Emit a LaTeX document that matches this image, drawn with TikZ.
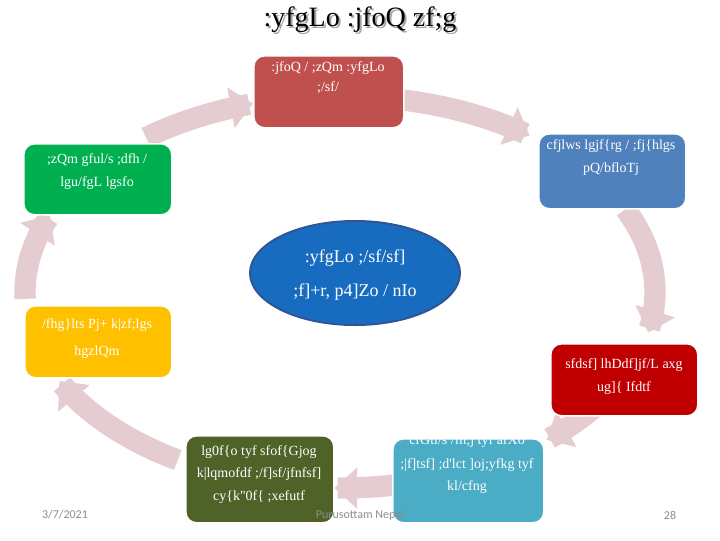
\documentclass[tikz,border=0pt]{standalone}
\usepackage{fontspec}
\setmainfont{Liberation Serif}[Ligatures=TeXOff]
\newfontfamily\footfont{Carlito}
\usetikzlibrary{arrows.meta,shapes.geometric}
\definecolor{ringc}{RGB}{228,204,208}
\definecolor{ctop}{RGB}{192,80,77}
\definecolor{cblue}{RGB}{79,129,189}
\definecolor{cgreen}{RGB}{0,176,80}
\definecolor{cyellow}{RGB}{255,192,0}
\definecolor{cred}{RGB}{192,0,0}
\definecolor{colive}{RGB}{79,98,40}
\definecolor{cteal}{RGB}{75,172,198}
\definecolor{cell}{RGB}{24,108,192}
\definecolor{cellb}{RGB}{47,85,151}
\definecolor{footc}{RGB}{140,140,140}
\begin{document}
\begin{tikzpicture}[x=0.75pt,y=-0.75pt,
  box/.style={draw=white, line width=1.2pt, rounded corners=8pt, anchor=north west, inner sep=0pt},
  txt/.style={text=white, font=\fontsize{10.5}{12}\selectfont, inner sep=0pt},
  ctxt/.style={text=white, font=\fontsize{13.5}{15}\selectfont, inner sep=0pt},
  seg/.style={draw=ringc, line width=16pt, -{Triangle[width=30pt,length=17pt]}},
  foot/.style={text=footc, font=\footfont\fontsize{9}{10}\selectfont, inner sep=0pt}]
\useasboundingbox (0,0) rectangle (720,540);
% ring segments
\draw[seg] plot[domain=82:53, samples=30] ({340+315*cos(\x)},{292-196*sin(\x)});
\draw[seg] plot[domain=25:-12, samples=30] ({340+315*cos(\x)},{292-196*sin(\x)});
\draw[seg] plot[domain=-35:-49, samples=20] ({340+315*cos(\x)},{292-196*sin(\x)});
\draw[seg] plot[domain=-80:-91, samples=20] ({340+315*cos(\x)},{292-196*sin(\x)});
\draw[seg] plot[domain=-121:-153, samples=30] ({340+315*cos(\x)},{292-196*sin(\x)});
\draw[seg] plot[domain=-178:-203, samples=30] ({340+315*cos(\x)},{292-196*sin(\x)});
\draw[seg] plot[domain=128:106, samples=30] ({340+315*cos(\x)},{292-196*sin(\x)});
% boxes
\node[box, fill=ctop, minimum width=112.5pt, minimum height=54pt] (top) at (253,55) {};
\node[box, fill=cblue, minimum width=110.25pt, minimum height=56.25pt] (blue) at (538,133) {};
\node[box, fill=cgreen, minimum width=111pt, minimum height=53.25pt] (green) at (23,143) {};
\node[box, fill=cyellow, minimum width=110.25pt, minimum height=54pt] (yellow) at (24,305) {};
\node[box, fill=cred, minimum width=110.25pt, minimum height=54pt] (red) at (550,343) {};
\node[box, fill=colive, minimum width=111pt, minimum height=65.25pt] (olive) at (185,435) {};
\node[box, fill=cteal, minimum width=113.25pt, minimum height=63pt] (teal) at (392,438) {};
\node[ellipse, fill=cell, draw=cellb, line width=1.5pt, minimum width=157.5pt, minimum height=78pt] (ctr) at (355,273) {};
% texts
\node[txt] (top1) at (328,68) {:jfoQ / ;zQm :yfgLo};
\node[txt] (top2) at (328,88) {;/sf/};
\node[txt] (blue1) at (611,146) {cfjlws lgjf\{rg / ;fj\{hlgs};
\node[txt] (blue2) at (611,169) {pQ/bfloTj};
\node[txt] (green1) at (97,160) {;zQm gful/s ;dfh /};
\node[txt] (green2) at (97,183) {lgu/fgL lgsfo};
\node[txt] (yel1) at (97,297) {;zf / Psf/ 5 Qm};
\node[txt] (yel2) at (97,325) {/fhg\}lts Pj+ k|zf;lgs};
\node[txt] (yel3) at (97,352) {hgzlQm};
\node[txt] (red1) at (624,338) {xfd] ;fdy\{ lj/fn L /};
\node[txt] (red2) at (624,365) {sfdsf] lhDdf]jf/L axg};
\node[txt] (red3) at (624,388) {ug]\{ Ifdtf};
\node[txt] (ol1) at (259,452) {lg0f\{o tyf sfof\{Gjog};
\node[txt] (ol2) at (259,474) {k|lqmofdf ;/f]sf/jfnfsf]};
\node[txt] (ol3) at (259,497) {cy\{k"0f\{ ;xefutf};
\node[txt] (te1) at (467,441) {cfGtl/s /fh;j tyf afXo};
\node[txt] (te2) at (467,465) {;|f]tsf] ;d'lct ]oj;yfkg tyf};
\node[txt] (te3) at (467,487) {kl/cfng};
\node[ctxt] (c1) at (355,258) {:yfgLo ;/sf/sf]};
\node[ctxt] (c2) at (355,292) {;f]+r, p4]Zo / nIo};
% title
\node[text=black!35, font=\fontsize{21}{24}\selectfont, inner sep=0pt] (titles) at (362,22) {:yfgLo :jfoQ zf;g};
\node[text=black, font=\fontsize{21}{24}\selectfont, inner sep=0pt] (title) at (360,20) {:yfgLo :jfoQ zf;g};
% footer
\node[foot] (date) at (65,515) {3/7/2021};
\node[foot] (author) at (360,515) {Purusottam Nepal};
\node[foot] (page) at (670,515) {28};
\end{tikzpicture}
\end{document}
